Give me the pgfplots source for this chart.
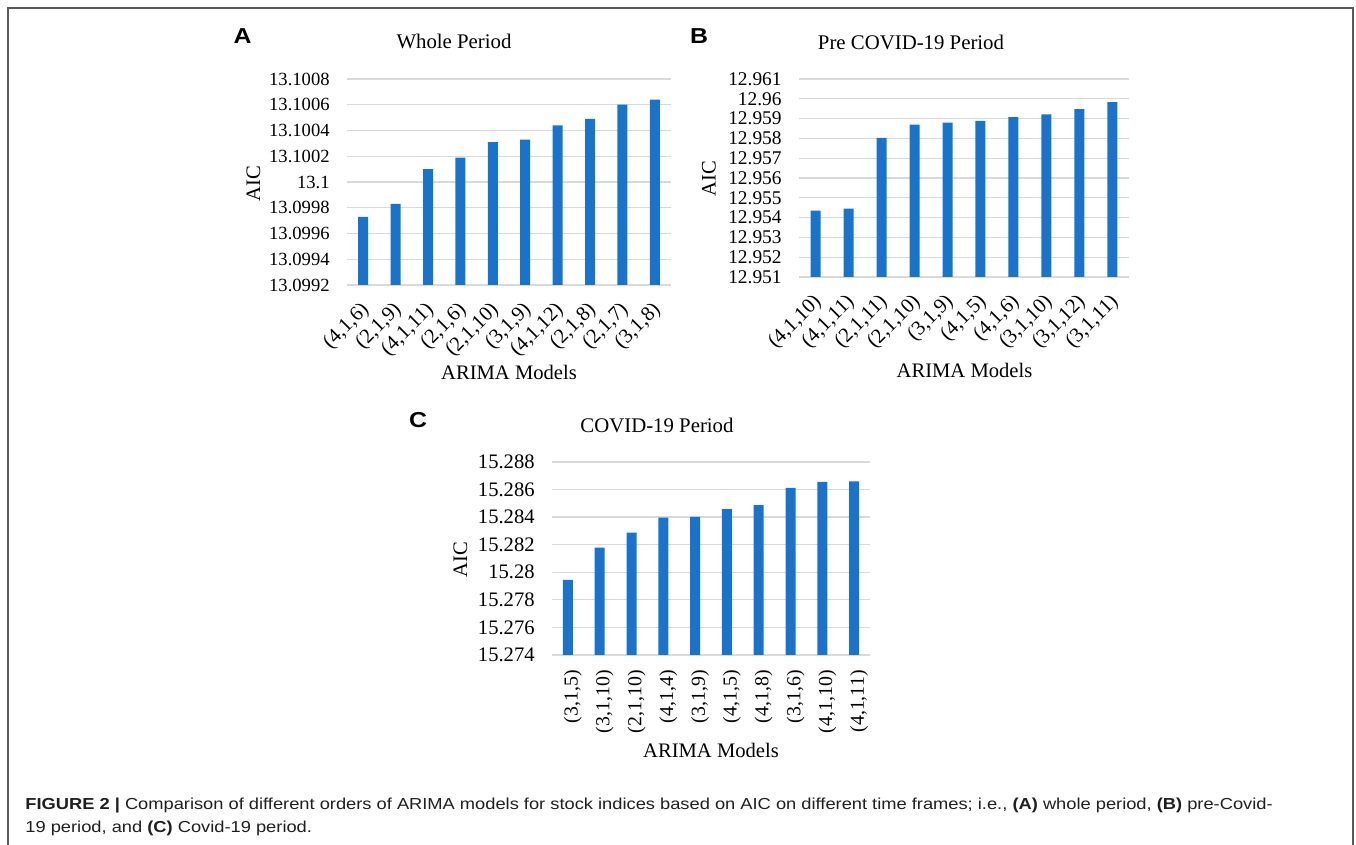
\documentclass[border=0pt]{standalone}
\usepackage{fontspec}
\setmainfont{Liberation Serif}
\newfontfamily\capsans[FakeStretch=1.15]{Liberation Sans}
\newfontfamily\lettersans[FakeStretch=1.15]{Liberation Sans}
\usepackage{pgfplots}
\pgfplotsset{compat=1.18}
\definecolor{barblue}{RGB}{26,115,202}
\definecolor{gridgray}{RGB}{217,217,217}
\definecolor{framegray}{RGB}{90,90,90}
\pgfplotsset{aicbar/.style={
  scale only axis, anchor=south west,
  ybar, bar width=5pt,
  xmin=-0.5, xmax=9.5,
  xtick={0,1,2,3,4,5,6,7,8,9},
  axis line style={draw=none},
  major tick length=0pt, tick style={draw=none},
  ymajorgrids, grid style={draw=gridgray, line width=0.65pt},
  yticklabel style={anchor=east, inner sep=0pt, xshift=-8.5pt},
}}
\begin{document}
\begin{tikzpicture}
% ---------------- A ----------------
\begin{axis}[aicbar,
  at={(173.5pt,280pt)}, width=162pt, height=103pt,
  ymin=13.0992, ymax=13.1008,
  ytick={13.0992,13.0994,13.0996,13.0998,13.1000,13.1002,13.1004,13.1006,13.1008},
  yticklabels={13.0992,13.0994,13.0996,13.0998,13.1,13.1002,13.1004,13.1006,13.1008},
  yticklabel style={font=\fontsize{9.3}{11}\selectfont},
  xticklabels={{(4,1,6)},{(2,1,9)},{(4,1,11)},{(2,1,6)},{(2,1,10)},{(3,1,9)},{(4,1,12)},{(2,1,8)},{(2,1,7)},{(3,1,8)}},
  xticklabel style={xshift=1.5pt, yshift=-11pt, rotate=45, anchor=east, inner sep=0pt, font=\fontsize{10.3}{12}\selectfont},
]
\addplot[fill=barblue, draw=none] coordinates {
(0,13.09973) (1,13.09983) (2,13.10010) (3,13.10019) (4,13.10031)
(5,13.10033) (6,13.10044) (7,13.10049) (8,13.10060) (9,13.10064)};
\end{axis}
% ---------------- B ----------------
\begin{axis}[aicbar,
  at={(399.5pt,284pt)}, width=165pt, height=99pt,
  ymin=12.951, ymax=12.961,
  ytick={12.951,12.952,12.953,12.954,12.955,12.956,12.957,12.958,12.959,12.960,12.961},
  yticklabels={12.951,12.952,12.953,12.954,12.955,12.956,12.957,12.958,12.959,12.96,12.961},
  yticklabel style={font=\fontsize{9.7}{11}\selectfont},
  xticklabels={{(4,1,10)},{(4,1,11)},{(2,1,11)},{(2,1,10)},{(3,1,9)},{(4,1,5)},{(4,1,6)},{(3,1,10)},{(3,1,12)},{(3,1,11)}},
  xticklabel style={xshift=1.5pt, yshift=-11pt, rotate=45, anchor=east, inner sep=0pt, font=\fontsize{10.3}{12}\selectfont},
]
\addplot[fill=barblue, draw=none] coordinates {
(0,12.95435) (1,12.95445) (2,12.95803) (3,12.95870) (4,12.95880)
(5,12.95889) (6,12.95907) (7,12.95921) (8,12.95948) (9,12.95983)};
\end{axis}
% ---------------- C ----------------
\begin{axis}[aicbar,
  at={(276pt,95pt)}, width=159pt, height=96.5pt,
  ymin=15.274, ymax=15.288,
  ytick={15.274,15.276,15.278,15.280,15.282,15.284,15.286,15.288},
  yticklabels={15.274,15.276,15.278,15.28,15.282,15.284,15.286,15.288},
  yticklabel style={font=\fontsize{10.3}{12}\selectfont},
  xticklabels={{(3,1,5)},{(3,1,10)},{(2,1,10)},{(4,1,4)},{(3,1,9)},{(4,1,5)},{(4,1,8)},{(3,1,6)},{(4,1,10)},{(4,1,11)}},
  xticklabel style={xshift=2.5pt, yshift=-7.5pt, rotate=90, anchor=east, inner sep=0pt, font=\fontsize{9.9}{12}\selectfont},
]
\addplot[fill=barblue, draw=none] coordinates {
(0,15.27944) (1,15.28179) (2,15.28288) (3,15.28396) (4,15.28401)
(5,15.28459) (6,15.28488) (7,15.28612) (8,15.28655) (9,15.28660)};
\end{axis}
% ---------------- texts ----------------
\node[anchor=base, font=\lettersans\bfseries\fontsize{10.8}{12}\selectfont] at (121.25pt,400.85pt) {A};
\node[anchor=base, font=\lettersans\bfseries\fontsize{10.8}{12}\selectfont] at (349.5pt,400.85pt) {B};
\node[anchor=base, font=\lettersans\bfseries\fontsize{10.8}{12}\selectfont] at (209pt,208.5pt) {C};
\node[anchor=base, font=\fontsize{10.4}{12}\selectfont] at (227pt,398pt) {Whole Period};
\node[anchor=base, font=\fontsize{10.4}{12}\selectfont] at (455.5pt,397.5pt) {Pre COVID-19 Period};
\node[anchor=base, font=\fontsize{10.4}{12}\selectfont] at (328.5pt,206pt) {COVID-19 Period};
\node[rotate=90, inner sep=0pt, font=\fontsize{10.3}{12}\selectfont] at (126.75pt,330.75pt) {AIC};
\node[rotate=90, inner sep=0pt, font=\fontsize{10.3}{12}\selectfont] at (354.5pt,333.25pt) {AIC};
\node[rotate=90, inner sep=0pt, font=\fontsize{10.3}{12}\selectfont] at (230.25pt,142.5pt) {AIC};
\node[anchor=base, font=\fontsize{10.3}{12}\selectfont] at (254.5pt,232.5pt) {ARIMA Models};
\node[anchor=base, font=\fontsize{10.3}{12}\selectfont] at (482.25pt,233.5pt) {ARIMA Models};
\node[anchor=base, font=\fontsize{10.3}{12}\selectfont] at (355.5pt,43.5pt) {ARIMA Models};
% caption
\node[anchor=base west, inner sep=0pt, text=black!88, font=\capsans\fontsize{7.95}{9}\selectfont] at (12.5pt,17.5pt)
  {\textbf{FIGURE 2 |} Comparison of different orders of ARIMA models for stock indices based on AIC on different time frames; i.e., \textbf{(A)} whole period, \textbf{(B)} pre-Covid-};
\node[anchor=base west, inner sep=0pt, text=black!88, font=\capsans\fontsize{7.95}{9}\selectfont] at (12.5pt,6pt)
  {19 period, and \textbf{(C)} Covid-19 period.};
% frame
\draw[framegray, line width=0.75pt] (4pt,0pt) -- (4pt,418.5pt) -- (676.5pt,418.5pt) -- (676.5pt,0pt);
\pgfresetboundingbox
\path[use as bounding box] (0pt,0pt) rectangle (678pt,422.5pt);
\end{tikzpicture}
\end{document}
